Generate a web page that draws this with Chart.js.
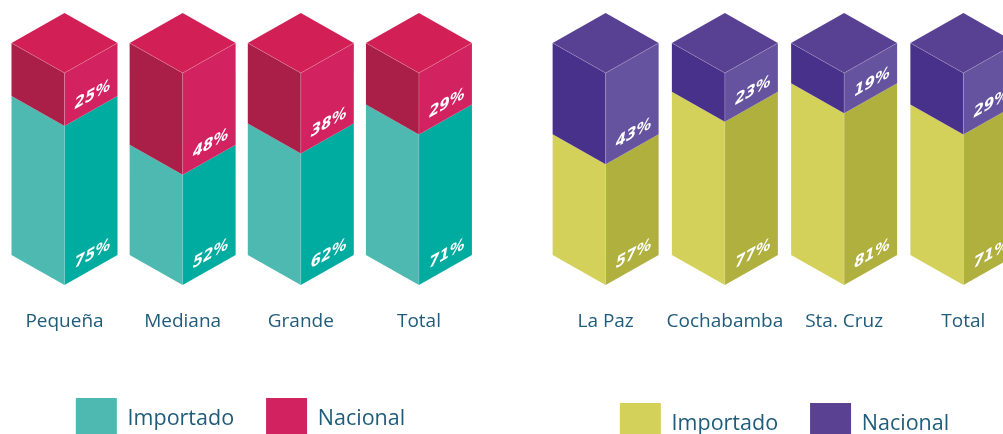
<!DOCTYPE html>
<html>
<head>
<meta charset="utf-8">
<script src="https://cdn.jsdelivr.net/npm/chart.js@4"></script>
<style>
  html, body { margin: 0; padding: 0; background: #fff; overflow: hidden; width: 1003px; height: 434px; }
  .wrap { position: absolute; top: 0; }
  #left { left: 0; width: 478px; height: 449px; }
  #right { left: 546px; width: 477px; height: 454px; }
</style>
</head>
<body>
<div class="wrap" id="left"><canvas id="chartLeft"></canvas></div>
<div class="wrap" id="right"><canvas id="chartRight"></canvas></div>
<script>
// data
const sizeLabels = ['Pequeña', 'Mediana', 'Grande', 'Total'];
const sizeImportado = [75, 52, 62, 71];
const sizeNacional = [25, 48, 38, 29];

const cityLabels = ['La Paz', 'Cochabamba', 'Sta. Cruz', 'Total'];
const cityImportado = [57, 77, 81, 71];
const cityNacional = [43, 23, 19, 29];

const textColor = '#1f5b7a';
const fontFamily = '"Open Sans", "Noto Sans", sans-serif';

// draw each stacked bar as an isometric box
const cubePlugin = {
  id: 'cubes',
  beforeDatasetDraw() {
    return false;
  },
  afterDatasetsDraw(chart, args, opts) {
    const ctx = chart.ctx;
    const sets = chart.data.datasets;
    const k = 0.566;
    for (let i = 0; i < chart.data.labels.length; i++) {
      sets.forEach((ds, d) => {
        const bar = chart.getDatasetMeta(d).data[i];
        const f = opts.faces[d];
        const x = bar.x, half = bar.width / 2, dep = half * k;
        const yTop = bar.y, yBot = bar.base;

        ctx.save();
        ctx.fillStyle = f.left;
        ctx.beginPath();
        ctx.moveTo(x - half, yTop - dep);
        ctx.lineTo(x, yTop);
        ctx.lineTo(x, yBot);
        ctx.lineTo(x - half, yBot - dep);
        ctx.closePath();
        ctx.fill();

        ctx.fillStyle = f.right;
        ctx.beginPath();
        ctx.moveTo(x, yTop);
        ctx.lineTo(x + half, yTop - dep);
        ctx.lineTo(x + half, yBot - dep);
        ctx.lineTo(x, yBot);
        ctx.closePath();
        ctx.fill();

        ctx.strokeStyle = 'rgba(255,255,255,0.3)';
        ctx.lineWidth = 0.6;
        ctx.beginPath();
        ctx.moveTo(x, yTop);
        ctx.lineTo(x, yBot);
        ctx.stroke();

        if (d === sets.length - 1) {
          ctx.fillStyle = f.top;
          ctx.beginPath();
          ctx.moveTo(x, yTop);
          ctx.lineTo(x - half, yTop - dep);
          ctx.lineTo(x, yTop - 2 * dep);
          ctx.lineTo(x + half, yTop - dep);
          ctx.closePath();
          ctx.fill();
          ctx.beginPath();
          ctx.moveTo(x - half, yTop - dep);
          ctx.lineTo(x, yTop);
          ctx.lineTo(x + half, yTop - dep);
          ctx.stroke();
        }

        // percentage text lying on the right face
        ctx.transform(1, -k, 0, 1, x, yBot);
        ctx.fillStyle = '#fff';
        ctx.font = 'italic bold 15px "DejaVu Sans", sans-serif';
        ctx.textAlign = 'left';
        ctx.textBaseline = 'alphabetic';
        ctx.fillText(ds.data[i] + '%', 10, -11);
        ctx.restore();
      });
    }
  }
};

function makeChart(id, labels, imp, nac, legendColors, faces, axisHeight, padLeft) {
  return new Chart(document.getElementById(id), {
    type: 'bar',
    data: {
      labels: labels,
      datasets: [
        { label: 'Importado', data: imp, backgroundColor: legendColors[0], borderWidth: 0 },
        { label: 'Nacional', data: nac, backgroundColor: legendColors[1], borderWidth: 0 }
      ]
    },
    options: {
      responsive: true,
      maintainAspectRatio: false,
      animation: false,
      datasets: { bar: { barThickness: 106 } },
      layout: { padding: { top: 73, left: padLeft, right: 0, bottom: 0 } },
      scales: {
        x: {
          stacked: true,
          grid: { display: false, drawTicks: false },
          border: { display: false },
          ticks: {
            color: textColor,
            font: { family: fontFamily, size: 19 },
            padding: 25,
            maxRotation: 0,
            autoSkip: false
          },
          afterFit: (scale) => { scale.height = axisHeight; }
        },
        y: { stacked: true, display: false, min: 0, max: 100 }
      },
      plugins: {
        legend: {
          position: 'bottom',
          labels: {
            boxWidth: 41,
            boxHeight: 41,
            padding: 32,
            color: textColor,
            font: { family: fontFamily, size: 21.5 }
          }
        },
        tooltip: { enabled: false },
        cubes: { faces: faces }
      }
    },
    plugins: [cubePlugin]
  });
}

makeChart('chartLeft', sizeLabels, sizeImportado, sizeNacional,
  ['#4db9b0', '#d22260'],
  [
    { left: '#4db9b0', right: '#00aba0', top: '#4db9b0' },
    { left: '#a91f48', right: '#d2225f', top: '#d21f56' }
  ], 81, 3);

makeChart('chartRight', cityLabels, cityImportado, cityNacional,
  ['#d3d15a', '#5a4192'],
  [
    { left: '#d3d15a', right: '#afb03d', top: '#d3d15a' },
    { left: '#47318a', right: '#6553a0', top: '#584192' }
  ], 86, 0);
</script>
</body>
</html>
